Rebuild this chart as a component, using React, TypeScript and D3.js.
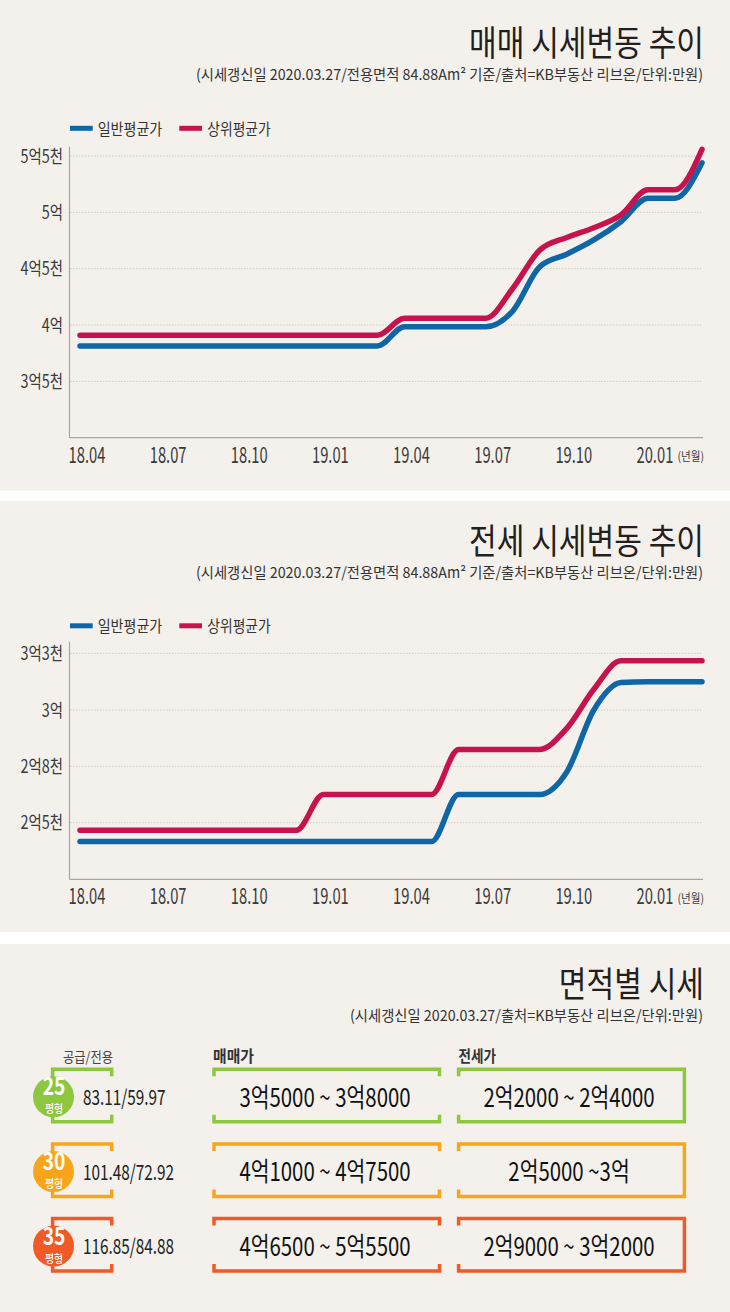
import React from 'react';
import * as d3 from 'd3';

// ---------- data ----------
const months = ['18.04','18.05','18.06','18.07','18.08','18.09','18.10','18.11','18.12','19.01','19.02','19.03','19.04','19.05','19.06','19.07','19.08','19.09','19.10','19.11','19.12','20.01','20.02','20.03'];
const xTickLabels = ['18.04','18.07','18.10','19.01','19.04','19.07','19.10','20.01'];
const seriesNames = ['일반평균가', '상위평균가'];

// 매매 (만원)
const saleAvg = [38150,38150,38150,38150,38150,38150,38150,38150,38150,38150,38150,38150,39850,39850,39850,39850,41240,45170,46290,47550,49170,51250,51250,54400];
const saleTop = [39100,39100,39100,39100,39100,39100,39100,39100,39100,39100,39100,39100,40600,40600,40600,40600,43250,46650,47770,48640,49770,52000,52000,55600];
const saleTicks = [35000, 40000, 45000, 50000, 55000];
const saleTickLabels = ['3억5천', '4억', '4억5천', '5억', '5억5천'];

// 전세 (만원)
const jeonseAvg = [24000,24000,24000,24000,24000,24000,24000,24000,24000,24000,24000,24000,24000,24000,26500,26500,26500,26500,27700,30000,31450,31500,31500,31500];
const jeonseTop = [24600,24600,24600,24600,24600,24600,24600,24600,24600,26500,26500,26500,26500,26500,28600,28600,28600,28600,29350,31100,32600,32600,32600,32600];
const jeonseTicks = [25000, 28000, 30000, 33000];
const jeonseTickLabels = ['2억5천', '2억8천', '3억', '3억3천'];

// 면적별 시세
const sizeTypes = ['25', '30', '35'];
const areas = ['83.11/59.97', '101.48/72.92', '116.85/84.88'];
const salePrices = ['3억5000 ~ 3억8000', '4억1000 ~ 4억7500', '4억6500 ~ 5억5500'];
const jeonsePrices = ['2억2000 ~ 2억4000', '2억5000 ~3억', '2억9000 ~ 3억2000'];

const titles = ['매매 시세변동 추이', '전세 시세변동 추이', '면적별 시세'];
const subtitleLong = '(시세갱신일 2020.03.27/전용면적 84.88Am² 기준/출처=KB부동산 리브온/단위:만원)';
const subtitleShort = '(시세갱신일 2020.03.27/출처=KB부동산 리브온/단위:만원)';

// ---------- styles ----------
const FONT = '"Noto Sans CJK KR", "Noto Sans", sans-serif';
const BLUE = '#0e66a6';
const RED = '#c6124d';
const BG = '#f4f1ec';
const ROW_COLORS = ['#8dc63f', '#f8a51b', '#f15a24'];

function FText({ x, y, w, anchor = 'start', size, weight = 400, fill = '#231f20', children }: any) {
  return (
    <text x={x} y={y} textLength={w} lengthAdjust="spacingAndGlyphs" textAnchor={anchor}
      fontSize={size} fontWeight={weight} fill={fill} fontFamily={FONT}>{children}</text>
  );
}
function CText({ x, y, sx = 1, anchor = 'start', size, weight = 400, fill = '#231f20', children }: any) {
  return (
    <text transform={`translate(${x},${y}) scale(${sx},1)`} textAnchor={anchor}
      fontSize={size} fontWeight={weight} fill={fill} fontFamily={FONT}>{children}</text>
  );
}

function LineChart({ dy, axisBottom, axisTop, yScale, ticks, tickLabels, avg, top, title }: any) {
  const x = d3.scaleLinear().domain([0, months.length - 1]).range([80, 702]);
  const line = d3.line<number>().x((_, i) => x(i)).y(d => yScale(d)).curve(d3.curveMonotoneX);
  const legendY = 128.3 + dy;
  return (
    <g>
      <CText x={704} y={56 + dy} sx={0.86} anchor="end" size={35}>{title}</CText>
      <FText x={703} y={80 + dy} w={507} anchor="end" size={15} fill="#333">{subtitleLong}</FText>
      {/* legend */}
      <rect x={70} y={legendY - 2.5} width={22.7} height={5} fill={BLUE} />
      <FText x={97.7} y={legendY + 6.2} w={64.6} size={16} fill="#333">{seriesNames[0]}</FText>
      <rect x={179.3} y={legendY - 2.5} width={22.7} height={5} fill={RED} />
      <FText x={207.3} y={legendY + 6.2} w={63.4} size={16} fill="#333">{seriesNames[1]}</FText>
      {/* grid */}
      {ticks.map((t: number) => (
        <line key={t} x1={70} x2={703} y1={yScale(t)} y2={yScale(t)} stroke="#cfcac3" strokeWidth={1} strokeDasharray="1.5 1.5" />
      ))}
      {ticks.map((t: number, i: number) => (
        <CText key={'l' + t} x={63} y={yScale(t) + 6.5} sx={0.8} anchor="end" size={18} fill="#3a3a3a">{tickLabels[i]}</CText>
      ))}
      {/* axes */}
      <line x1={69.5} x2={69.5} y1={axisTop} y2={axisBottom} stroke="#a9a49e" strokeWidth={1.2} />
      <line x1={69.5} x2={703} y1={axisBottom} y2={axisBottom} stroke="#a9a49e" strokeWidth={1.2} />
      {xTickLabels.map(l => {
        const i = months.indexOf(l);
        return <CText key={l} x={x(i) + 7} y={axisBottom + 25} sx={0.67} anchor="middle" size={22} fill="#3a3a3a">{l}</CText>;
      })}
      <CText x={677.5} y={axisBottom + 23.5} sx={0.88} size={12} fill="#3a3a3a">(년월)</CText>
      {/* lines */}
      <path d={line(avg) || ''} fill="none" stroke={BLUE} strokeWidth={5.5} strokeLinecap="round" strokeLinejoin="round" />
      <path d={line(top) || ''} fill="none" stroke={RED} strokeWidth={5.5} strokeLinecap="round" strokeLinejoin="round" />
    </g>
  );
}

export default function App() {
  const y1 = d3.scaleLinear().domain([30000, 55000]).range([437.7, 156.05]);
  const y2 = d3.scaleLinear().domain([22000, 25000, 28000, 30000, 33000]).range([879.3, 822.7, 766.3, 710, 653.3]);

  const rowTop = (r: number) => 1069.3 + r * 74.65;
  const rowH = 52.5;
  const tk = 7;

  return (
    <svg width={730} height={1312} viewBox="0 0 730 1312"
      style={{ position: 'absolute', left: 0, top: 0, display: 'block' }}>
      <rect x={0} y={0} width={730} height={1312} fill="#ffffff" />
      <rect x={0} y={0} width={730} height={490.5} fill={BG} />
      <rect x={0} y={501} width={730} height={431} fill={BG} />
      <rect x={0} y={944} width={730} height={368} fill={BG} />

      <LineChart dy={0} axisBottom={437.7} axisTop={146.7} yScale={y1}
        ticks={saleTicks} tickLabels={saleTickLabels} avg={saleAvg} top={saleTop} title={titles[0]} />
      <LineChart dy={497.5} axisBottom={879.3} axisTop={641.7} yScale={y2}
        ticks={jeonseTicks} tickLabels={jeonseTickLabels} avg={jeonseAvg} top={jeonseTop} title={titles[1]} />

      {/* panel 3 */}
      <CText x={704} y={997} sx={0.86} anchor="end" size={35}>{titles[2]}</CText>
      <FText x={703} y={1020.5} w={353} anchor="end" size={15} fill="#333">{subtitleShort}</FText>
      <FText x={88} y={1062} w={50} anchor="middle" size={14} fill="#444">공급/전용</FText>
      <FText x={213} y={1061.5} w={41} size={16} weight={700} fill="#333">매매가</FText>
      <FText x={458.6} y={1061.5} w={37.5} size={16} weight={700} fill="#333">전세가</FText>

      {sizeTypes.map((s, r) => {
        const t = rowTop(r);
        const b = t + rowH;
        const c = ROW_COLORS[r];
        return (
          <g key={s}>
            <path d={`M111.7,${t + tk} V${t} H52.6 V${b} H111.7 V${b - tk}`} fill="none" stroke={c} strokeWidth={3.5} />
            <path d={`M214,${t + tk} V${t} H439.5 V${t + tk} M214,${b - tk} V${b} H439.5 V${b - tk}`} fill="none" stroke={c} strokeWidth={3.5} />
            <path d={`M458.6,${t + tk} V${t} H684.4 V${b} H458.6 V${b - tk}`} fill="none" stroke={c} strokeWidth={3.5} />
            <circle cx={53.5} cy={t + 27.5} r={20.5} fill={c} />
            <CText x={54} y={t + 26} sx={0.8} anchor="middle" size={24} weight={700} fill="#ffffff">{s}</CText>
            <CText x={54} y={t + 44} sx={0.9} anchor="middle" size={11} weight={500} fill="#ffffff">평형</CText>
            <CText x={83} y={t + 35.6} sx={0.73} size={21} fill="#222">{areas[r]}</CText>
            <CText x={325} y={t + 37.5} sx={0.785} anchor="middle" size={26} fill="#111">{salePrices[r]}</CText>
            <CText x={569} y={t + 37.5} sx={0.785} anchor="middle" size={26} fill="#111">{jeonsePrices[r]}</CText>
          </g>
        );
      })}
    </svg>
  );
}
